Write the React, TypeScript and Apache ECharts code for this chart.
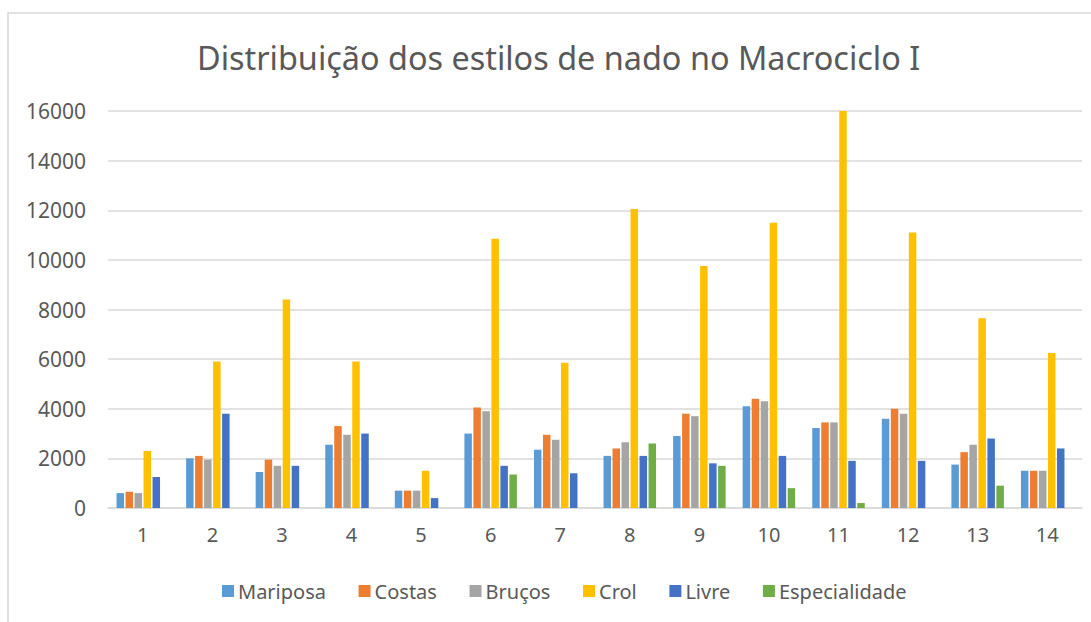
import React, { useEffect, useRef } from "react";
import * as echarts from "echarts";

const categories = ["1", "2", "3", "4", "5", "6", "7", "8", "9", "10", "11", "12", "13", "14"];
const mariposa = [600, 2000, 1450, 2550, 700, 3000, 2350, 2100, 2900, 4100, 3225, 3600, 1750, 1500];
const costas = [650, 2100, 1950, 3300, 700, 4050, 2950, 2400, 3800, 4400, 3450, 4000, 2250, 1500];
const brucos = [600, 1950, 1700, 2950, 700, 3900, 2750, 2650, 3700, 4300, 3450, 3800, 2550, 1500];
const crol = [2300, 5900, 8400, 5900, 1500, 10850, 5850, 12050, 9750, 11500, 16000, 11100, 7650, 6250];
const livre = [1250, 3800, 1700, 3000, 400, 1700, 1400, 2100, 1800, 2100, 1900, 1900, 2800, 2400];
const especialidade = [0, 0, 0, 0, 0, 1350, 0, 2600, 1700, 800, 200, 0, 900, 0];

const seriesNames = ["Mariposa", "Costas", "Bruços", "Crol", "Livre", "Especialidade"];
const seriesData = [mariposa, costas, brucos, crol, livre, especialidade];
const colors = ["#5B9BD5", "#ED7D31", "#A5A5A5", "#FFC000", "#4472C4", "#70AD47"];

export default function App() {
  const ref = useRef<HTMLDivElement>(null);
  useEffect(() => {
    if (!ref.current) return;
    const chart = echarts.init(ref.current, undefined, { renderer: "svg" });
    const font = "Noto Sans";
    chart.setOption({
      animation: false,
      backgroundColor: "#ffffff",
      color: colors,
      title: {
        text: "Distribuição dos estilos de nado no Macrociclo I",
        left: 192,
        top: 36,
        textStyle: { fontFamily: font, fontSize: 32.4, fontWeight: "normal", color: "#595959" },
      },
      graphic: [
        {
          type: "rect",
          shape: { x: 8, y: 13, width: 1100, height: 700 },
          style: { fill: "none", stroke: "#D9D9D9", lineWidth: 1.5 },
          silent: true,
        },
      ],
      legend: {
        data: seriesNames,
        bottom: 16,
        left: 217,
        itemWidth: 12,
        itemHeight: 12,
        itemGap: 32.6,
        icon: "rect",
        textStyle: { fontFamily: font, fontSize: 20, color: "#595959", padding: [0, 0, 0, -1] },
      },
      grid: { left: 108, right: 9, top: 111, bottom: 114, containLabel: false },
      xAxis: {
        type: "category",
        data: categories,
        axisLine: { lineStyle: { color: "#D9D9D9", width: 1.5 } },
        axisTick: { show: false },
        axisLabel: { fontFamily: font, fontSize: 20, color: "#595959", margin: 16 },
      },
      yAxis: {
        type: "value",
        min: 0,
        max: 16000,
        interval: 2000,
        axisLine: { show: false },
        axisTick: { show: false },
        splitLine: { lineStyle: { color: "#D9D9D9", width: 1.5 } },
        axisLabel: {
          fontFamily: font,
          fontSize: 21,
          color: "#595959",
          margin: 22,
          formatter: (v: number) => String(v),
        },
      },
      series: seriesNames.map((name, i) => ({
        name,
        type: "bar",
        data: seriesData[i],
        barWidth: 7.5,
        barGap: "20%",
        itemStyle: { color: colors[i] },
      })),
    });
    return () => chart.dispose();
  }, []);
  return <div ref={ref} style={{ position: "fixed", left: 0, top: 0, width: 1091, height: 622 }} />;
}
